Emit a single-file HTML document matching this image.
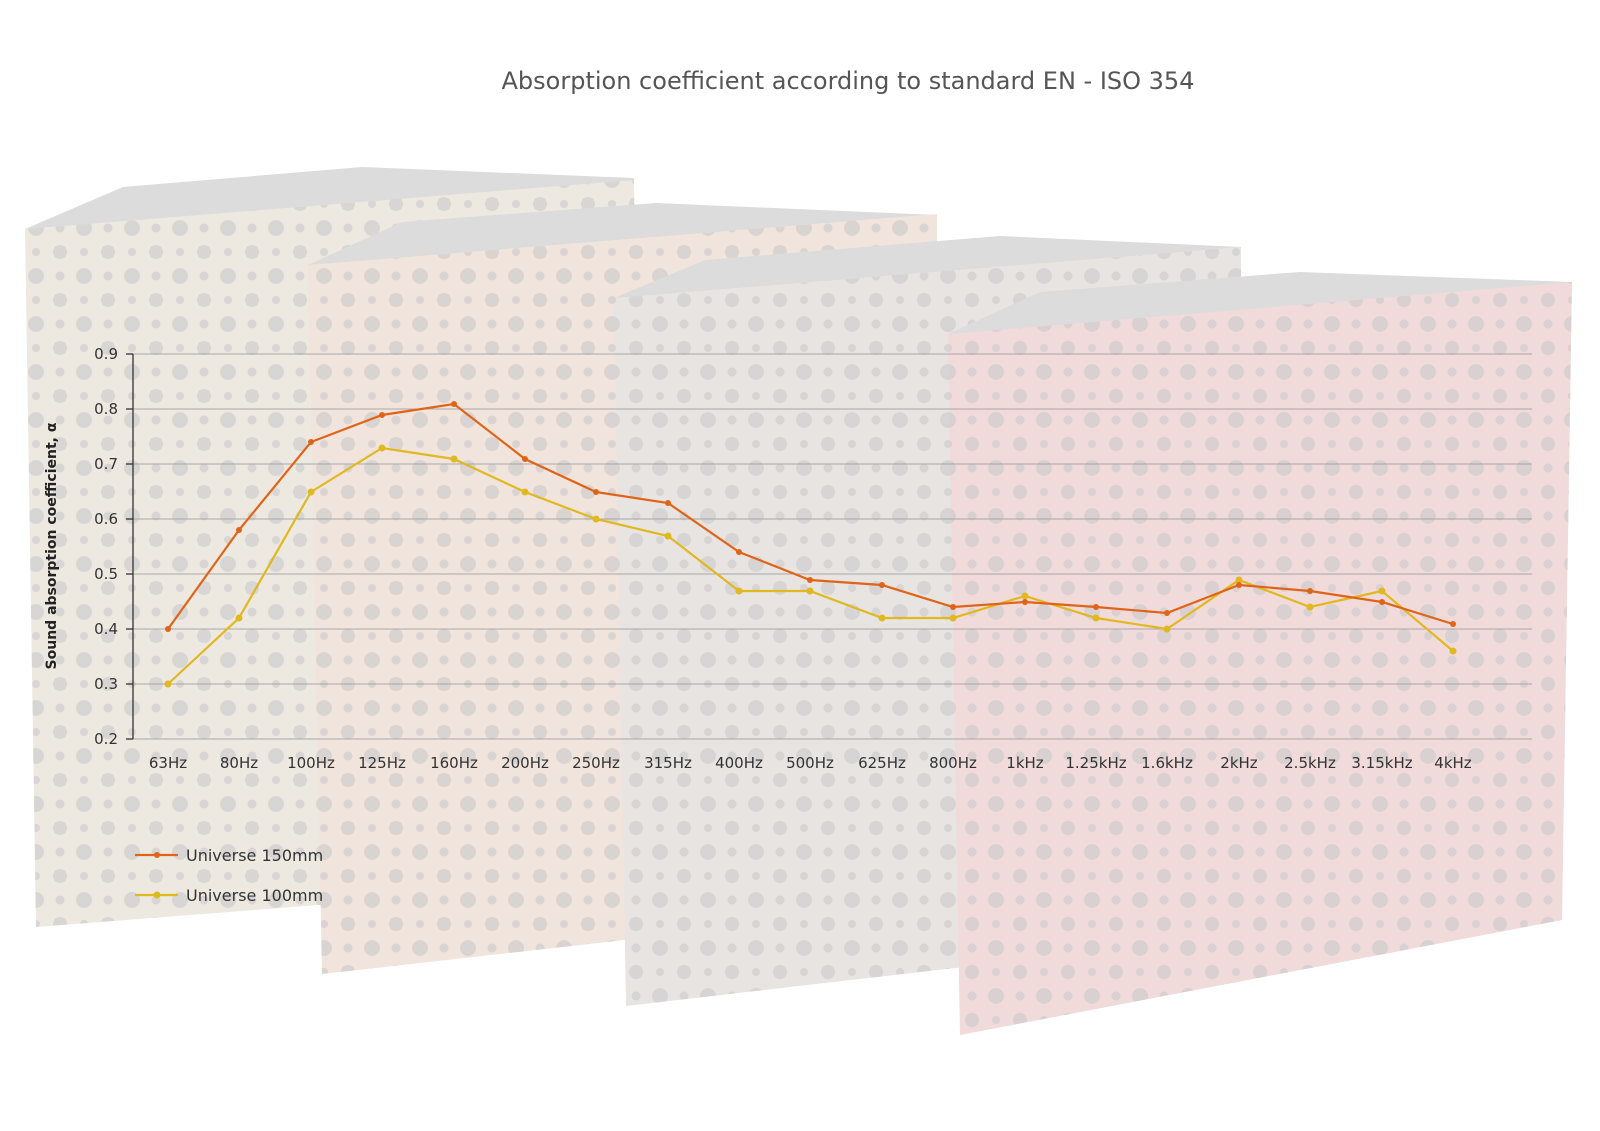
<!DOCTYPE html>
<html><head><meta charset="utf-8"><style>
body{margin:0;background:#fff;}
svg{display:block;font-family:"DejaVu Sans","Liberation Sans",sans-serif;}
</style></head><body>
<svg width="1600" height="1131" viewBox="0 0 1600 1131" xmlns="http://www.w3.org/2000/svg">
<defs>
<pattern id="dots" width="48" height="48" patternUnits="userSpaceOnUse">
<circle cx="12" cy="12" r="7" fill="#c9c9cb" opacity="0.6"/>
<circle cx="36" cy="12" r="4" fill="#c9c9cb" opacity="0.6"/>
<circle cx="12" cy="36" r="4.5" fill="#c9c9cb" opacity="0.6"/>
<circle cx="36" cy="36" r="8" fill="#c9c9cb" opacity="0.6"/>
</pattern>
</defs>
<text x="848" y="89" text-anchor="middle" font-size="24" fill="#555">Absorption coefficient according to standard EN - ISO 354</text>

<polygon points="25,229 123,187 362,167 634,178 634,190" fill="#dcdcdc"/>
<polygon points="25,229 634,180 640,880 36,927" fill="#ede9e1"/>
<polygon points="25,229 634,180 640,880 36,927" fill="url(#dots)"/>
<polygon points="308,265 402,222 656,203 937,215 937,225" fill="#dcdcdc"/>
<polygon points="308,265 937,214 937,905 322,974" fill="#f1e4dc"/>
<polygon points="308,265 937,214 937,905 322,974" fill="url(#dots)"/>
<polygon points="614,298 705,260 1000,236 1241,247 1241,257" fill="#dcdcdc"/>
<polygon points="614,298 1241,247 1241,935 626,1006" fill="#e8e4e2"/>
<polygon points="614,298 1241,247 1241,935 626,1006" fill="url(#dots)"/>
<polygon points="948,334 1040,292 1300,272 1572,282 1572,292" fill="#dcdcdc"/>
<polygon points="948,334 1572,282 1562,920 960,1035" fill="#f0dada"/>
<polygon points="948,334 1572,282 1562,920 960,1035" fill="url(#dots)"/>

<g stroke="#9a9a9a" stroke-width="1" opacity="0.8">
<line x1="133" y1="354" x2="1532" y2="354"/>
<line x1="133" y1="409" x2="1532" y2="409"/>
<line x1="133" y1="464" x2="1532" y2="464"/>
<line x1="133" y1="519" x2="1532" y2="519"/>
<line x1="133" y1="574" x2="1532" y2="574"/>
<line x1="133" y1="629" x2="1532" y2="629"/>
<line x1="133" y1="684" x2="1532" y2="684"/>
<line x1="133" y1="739" x2="1532" y2="739"/>
</g>
<line x1="133" y1="354" x2="133" y2="739" stroke="#333" stroke-width="1.3"/>
<g stroke="#333" stroke-width="1.3">
<line x1="126" y1="354" x2="133" y2="354"/><line x1="126" y1="409" x2="133" y2="409"/><line x1="126" y1="464" x2="133" y2="464"/><line x1="126" y1="519" x2="133" y2="519"/><line x1="126" y1="574" x2="133" y2="574"/><line x1="126" y1="629" x2="133" y2="629"/><line x1="126" y1="684" x2="133" y2="684"/><line x1="126" y1="739" x2="133" y2="739"/>
</g>
<g font-size="15" fill="#333" text-anchor="end">
<text x="118" y="359">0.9</text><text x="118" y="414">0.8</text><text x="118" y="469">0.7</text><text x="118" y="524">0.6</text><text x="118" y="579">0.5</text><text x="118" y="634">0.4</text><text x="118" y="689">0.3</text><text x="118" y="744">0.2</text>
</g>
<text transform="translate(56,546) rotate(-90)" text-anchor="middle" font-size="14" font-weight="bold" fill="#222">Sound absorption coefficient, α</text>
<g font-size="15" fill="#333" text-anchor="middle">
<text x="168" y="768">63Hz</text><text x="239" y="768">80Hz</text><text x="311" y="768">100Hz</text><text x="382" y="768">125Hz</text><text x="454" y="768">160Hz</text><text x="525" y="768">200Hz</text><text x="596" y="768">250Hz</text><text x="668" y="768">315Hz</text><text x="739" y="768">400Hz</text><text x="810" y="768">500Hz</text><text x="882" y="768">625Hz</text><text x="953" y="768">800Hz</text><text x="1025" y="768">1kHz</text><text x="1096" y="768">1.25kHz</text><text x="1167" y="768">1.6kHz</text><text x="1239" y="768">2kHz</text><text x="1310" y="768">2.5kHz</text><text x="1382" y="768">3.15kHz</text><text x="1453" y="768">4kHz</text>
</g>
<polyline fill="none" stroke="#e0b820" stroke-width="2.2" points="168,684 239,618 311,492 382,448 454,459 525,492 596,519 668,536 739,591 810,591 882,618 953,618 1025,596 1096,618 1167,629 1239,580 1310,607 1382,591 1453,651"/>
<g fill="#e0b820">
<circle cx="168" cy="684" r="3.5"/><circle cx="239" cy="618" r="3.5"/><circle cx="311" cy="492" r="3.5"/><circle cx="382" cy="448" r="3.5"/><circle cx="454" cy="459" r="3.5"/><circle cx="525" cy="492" r="3.5"/><circle cx="596" cy="519" r="3.5"/><circle cx="668" cy="536" r="3.5"/><circle cx="739" cy="591" r="3.5"/><circle cx="810" cy="591" r="3.5"/><circle cx="882" cy="618" r="3.5"/><circle cx="953" cy="618" r="3.5"/><circle cx="1025" cy="596" r="3.5"/><circle cx="1096" cy="618" r="3.5"/><circle cx="1167" cy="629" r="3.5"/><circle cx="1239" cy="580" r="3.5"/><circle cx="1310" cy="607" r="3.5"/><circle cx="1382" cy="591" r="3.5"/><circle cx="1453" cy="651" r="3.5"/>
</g>
<polyline fill="none" stroke="#e06418" stroke-width="2.2" points="168,629 239,530 311,442 382,415 454,404 525,459 596,492 668,503 739,552 810,580 882,585 953,607 1025,602 1096,607 1167,613 1239,585 1310,591 1382,602 1453,624"/>
<g fill="#e06418">
<circle cx="168" cy="629" r="3"/><circle cx="239" cy="530" r="3"/><circle cx="311" cy="442" r="3"/><circle cx="382" cy="415" r="3"/><circle cx="454" cy="404" r="3"/><circle cx="525" cy="459" r="3"/><circle cx="596" cy="492" r="3"/><circle cx="668" cy="503" r="3"/><circle cx="739" cy="552" r="3"/><circle cx="810" cy="580" r="3"/><circle cx="882" cy="585" r="3"/><circle cx="953" cy="607" r="3"/><circle cx="1025" cy="602" r="3"/><circle cx="1096" cy="607" r="3"/><circle cx="1167" cy="613" r="3"/><circle cx="1239" cy="585" r="3"/><circle cx="1310" cy="591" r="3"/><circle cx="1382" cy="602" r="3"/><circle cx="1453" cy="624" r="3"/>
</g>
<line x1="135" y1="855" x2="178" y2="855" stroke="#e06418" stroke-width="2.2"/><circle cx="157" cy="855" r="3" fill="#e06418"/>
<text x="186" y="861" font-size="16" fill="#333">Universe 150mm</text>
<line x1="135" y1="895" x2="178" y2="895" stroke="#e0b820" stroke-width="2.2"/><circle cx="157" cy="895" r="3.5" fill="#e0b820"/>
<text x="186" y="901" font-size="16" fill="#333">Universe 100mm</text>
</svg>
</body></html>
